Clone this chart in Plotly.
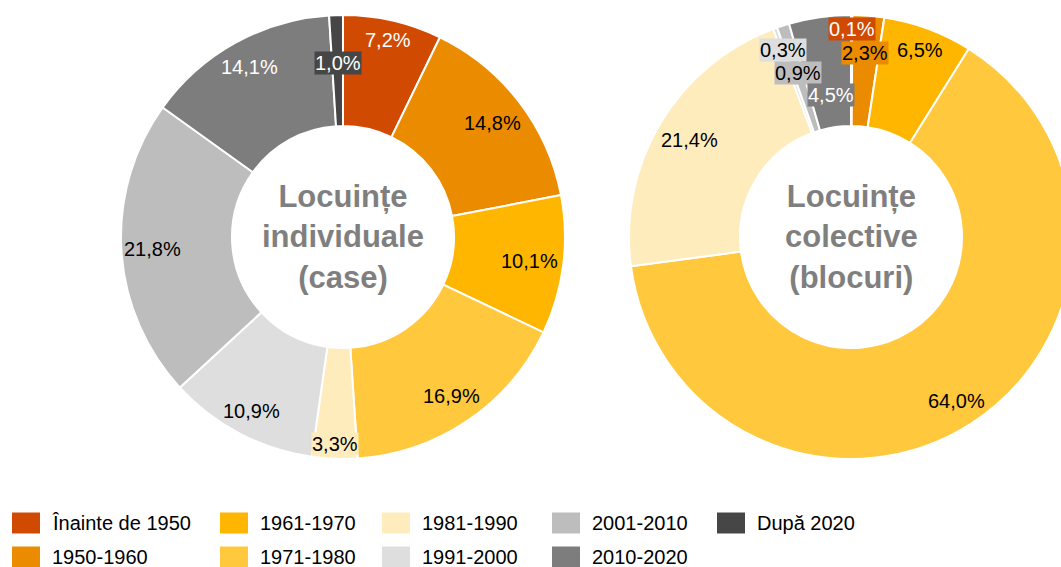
import math
import plotly.graph_objects as go

# ---------------- data ----------------
categories = ["Înainte de 1950", "1950-1960", "1961-1970", "1971-1980", "1981-1990",
              "1991-2000", "2001-2010", "2010-2020", "După 2020"]
case_values = [7.2, 14.8, 10.1, 16.9, 3.3, 10.9, 21.8, 14.1, 1.0]
blocuri_values = [0.1, 2.3, 6.5, 64.0, 21.4, 0.3, 0.9, 4.5, 0.0]
center_titles = ["Locuințe<br>individuale<br>(case)", "Locuințe<br>colective<br>(blocuri)"]

# ---------------- style ----------------
colors = ["#D04A02", "#EB8C00", "#FFB600", "#FFC83D", "#FFECBD",
          "#DEDEDE", "#BDBDBD", "#7D7D7D", "#464646"]
FONT = "Arial, Liberation Sans, sans-serif"
W, H = 1073, 567   # right donut runs past the window edge, as in the reference
R = 222
centers = [(343, 237), (851, 237)]

# label styling per donut (text colour, box colour, radial position as fraction of R)
label_text_colors = [
    ["white", "black", "black", "black", "black", "black", "black", "white", "white"],
    ["white", "black", "black", "black", "black", "black", "black", "white", "white"],
]
label_box_colors = [
    [None, None, None, None, "#FFECBD", None, None, None, "#464646"],
    ["#D04A02", "#EB8C00", None, None, None, "#DEDEDE", "#BDBDBD", "#7D7D7D", None],
]
label_radius = [
    [0.91, 0.847, 0.847, 0.867, 0.932, 0.883, 0.86, 0.874, 0.784],
    [0.939, 0.83, 0.9, 0.877, 0.85, 0.896, 0.775, 0.646, 0.8],
]

fig = go.Figure()
annotations = []
shapes = []

for k, values in enumerate([case_values, blocuri_values]):
    cx, cy = centers[k]
    x0 = max(0.0, (cx - R) / W)
    x1 = min(1.0, (cx + R) / W)
    fig.add_trace(go.Pie(
        labels=categories,
        values=values,
        sort=False,
        direction="clockwise",
        rotation=0,
        hole=0.5,
        textinfo="none",
        hoverinfo="label+percent",
        showlegend=False,
        marker=dict(colors=colors, line=dict(color="white", width=2)),
        domain=dict(x=[x0, x1], y=[(H - (cy + R)) / H, (H - (cy - R)) / H]),
    ))
    # centre title
    annotations.append(dict(
        x=cx / W, y=1 - cy / H, xref="paper", yref="paper",
        text="<b>" + center_titles[k] + "</b>", showarrow=False,
        font=dict(family=FONT, size=31, color="#7F7F7F"),
        xanchor="center", yanchor="middle", align="center",
    ))
    # value labels
    total = sum(values)
    cum = 0.0
    for i, v in enumerate(values):
        mid = cum + v / 2.0
        cum += v
        if v <= 0:
            continue
        th = 2 * math.pi * mid / total
        r = label_radius[k][i] * R
        px = cx + r * math.sin(th)
        py = cy - r * math.cos(th)
        txt = f"{v:.1f}".replace(".", ",") + "%"
        ann = dict(
            x=px / W, y=1 - py / H, xref="paper", yref="paper",
            text=txt, showarrow=False,
            font=dict(family=FONT, size=20, color=label_text_colors[k][i]),
            xanchor="center", yanchor="middle",
        )
        if label_box_colors[k][i]:
            ann["bgcolor"] = label_box_colors[k][i]
            ann["borderpad"] = 0
        annotations.append(ann)

# ---------------- manual legend (2 rows, column-major) ----------------
legend_col_x = [12, 220, 382, 552, 717]
legend_row_y = [523, 557]
for i, name in enumerate(categories):
    col, row = i // 2, i % 2
    lx = legend_col_x[col]
    ly = legend_row_y[row]
    shapes.append(dict(
        type="rect", xref="paper", yref="paper",
        x0=lx / W, x1=(lx + 28) / W,
        y0=1 - (ly + 10.5) / H, y1=1 - (ly - 10.5) / H,
        fillcolor=colors[i], line=dict(width=0),
    ))
    annotations.append(dict(
        x=(lx + 38) / W, y=1 - ly / H, xref="paper", yref="paper",
        text=name, showarrow=False,
        font=dict(family=FONT, size=20, color="black"),
        xanchor="left", yanchor="middle",
    ))

fig.update_layout(
    width=W, height=H,
    margin=dict(l=0, r=0, t=0, b=0),
    paper_bgcolor="white",
    plot_bgcolor="white",
    annotations=annotations,
    shapes=shapes,
    showlegend=False,
)

fig.write_html(
    "out.html",
    config={"displayModeBar": False},
    post_script=(
        "document.body.style.margin='0';"
        "document.body.style.overflow='hidden';"
        "document.documentElement.style.overflow='hidden';"
    ),
)
